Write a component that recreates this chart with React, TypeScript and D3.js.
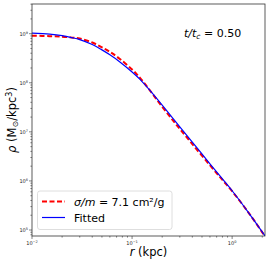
import React, { useEffect, useRef } from 'react';
import * as d3 from 'd3';

// radius (kpc) and log10 density
const radii = [0.01, 0.015, 0.02, 0.025, 0.03, 0.04, 0.05, 0.06, 0.075, 0.1, 0.12, 0.15, 0.19, 0.25, 0.3, 0.4, 0.6, 0.8, 1.0, 1.5, 2.13];
const simLogRho = [8.96, 8.95, 8.94, 8.92, 8.9, 8.82, 8.72, 8.63, 8.49, 8.27, 8.1, 7.85, 7.57, 7.26, 7.06, 6.75, 6.32, 6.02, 5.79, 5.32, 4.87];
const fitLogRho = [9.01, 8.99, 8.96, 8.92, 8.88, 8.78, 8.67, 8.57, 8.43, 8.22, 8.07, 7.85, 7.6, 7.3, 7.1, 6.79, 6.35, 6.04, 5.8, 5.32, 4.88];
const xTicks = [-2, -1, 0];
const yTicks = [5, 6, 7, 8, 9];
const simLabel = 'σ/m = 7.1 cm²/g';
const fitLabel = 'Fitted';

const W = 268, H = 262;
const margin = { top: 4, right: 3, bottom: 26, left: 32 };
const font = 'DejaVu Sans, sans-serif';

const App = () => {
  const svgRef = useRef<SVGSVGElement>(null);

  useEffect(() => {
    const svg = d3.select(svgRef.current);
    svg.selectAll('*').remove();

    const x = d3.scaleLog().domain([0.01, 2.13]).range([margin.left, W - margin.right]);
    const y = d3.scaleLog().domain([Math.pow(10, 4.878), Math.pow(10, 9.605)]).range([H - margin.bottom, margin.top]);

    const line = d3.line<[number, number]>()
      .x(d => x(d[0]))
      .y(d => y(Math.pow(10, d[1])))
      .curve(d3.curveCatmullRom.alpha(0.5));

    const clip = svg.append('clipPath').attr('id', 'plot');
    clip.append('rect')
      .attr('x', margin.left).attr('y', margin.top)
      .attr('width', W - margin.left - margin.right)
      .attr('height', H - margin.top - margin.bottom);

    const plot = svg.append('g').attr('clip-path', 'url(#plot)');
    plot.append('path')
      .datum(radii.map((r, i) => [r, simLogRho[i]] as [number, number]))
      .attr('d', line)
      .attr('fill', 'none')
      .attr('stroke', '#ff0000')
      .attr('stroke-width', 2)
      .attr('stroke-dasharray', '5,2.5');
    plot.append('path')
      .datum(radii.map((r, i) => [r, fitLogRho[i]] as [number, number]))
      .attr('d', line)
      .attr('fill', 'none')
      .attr('stroke', '#0000ff')
      .attr('stroke-width', 1.2);

    // frame
    svg.append('rect')
      .attr('x', margin.left).attr('y', margin.top)
      .attr('width', W - margin.left - margin.right)
      .attr('height', H - margin.top - margin.bottom)
      .attr('fill', 'none').attr('stroke', '#333').attr('stroke-width', 0.8);

    // x ticks
    const xb = H - margin.bottom;
    for (let e = -2; e <= 0; e++) {
      for (let m = 1; m <= 9; m++) {
        const v = m * Math.pow(10, e);
        if (v > 2.13) continue;
        svg.append('line')
          .attr('x1', x(v)).attr('x2', x(v))
          .attr('y1', xb).attr('y2', xb + (m === 1 ? 3 : 1.6))
          .attr('stroke', '#333').attr('stroke-width', 0.6);
      }
    }
    xTicks.forEach(e => {
      const t = svg.append('text')
        .attr('x', x(Math.pow(10, e))).attr('y', xb + 9)
        .attr('text-anchor', 'middle')
        .attr('font-family', font).attr('font-size', 5).attr('fill', '#222');
      t.append('tspan').text('10');
      t.append('tspan').attr('dy', -2).attr('font-size', 3.5).text(e < 0 ? '−' + -e : String(e));
    });

    // y ticks
    for (let e = 4; e <= 9; e++) {
      for (let m = 1; m <= 9; m++) {
        const v = m * Math.pow(10, e);
        if (v < Math.pow(10, 4.878) || v > Math.pow(10, 9.605)) continue;
        svg.append('line')
          .attr('x1', margin.left).attr('x2', margin.left - (m === 1 ? 3 : 1.6))
          .attr('y1', y(v)).attr('y2', y(v))
          .attr('stroke', '#333').attr('stroke-width', 0.6);
      }
    }
    yTicks.forEach(e => {
      const t = svg.append('text')
        .attr('x', margin.left - 4).attr('y', y(Math.pow(10, e)) + 2)
        .attr('text-anchor', 'end')
        .attr('font-family', font).attr('font-size', 5).attr('fill', '#222');
      t.append('tspan').text('10');
      t.append('tspan').attr('dy', -2).attr('font-size', 3.5).text(String(e));
    });

    // axis labels
    const xl = svg.append('text')
      .attr('x', (margin.left + W - margin.right) / 2).attr('y', 256)
      .attr('text-anchor', 'middle')
      .attr('font-family', font).attr('font-size', 11.5).attr('fill', '#000');
    xl.append('tspan').attr('font-style', 'italic').text('r');
    xl.append('tspan').text(' (kpc)');

    const yl = svg.append('text')
      .attr('transform', `translate(16,${(margin.top + H - margin.bottom) / 2}) rotate(-90)`)
      .attr('text-anchor', 'middle')
      .attr('font-family', font).attr('font-size', 11.5).attr('fill', '#000');
    yl.append('tspan').attr('font-style', 'italic').text('ρ');
    yl.append('tspan').text(' (M');
    yl.append('tspan').attr('font-size', 8).attr('dy', 2).text('⊙');
    yl.append('tspan').attr('dy', -2).text('/kpc');
    yl.append('tspan').attr('font-size', 8).attr('dy', -4).text('3');
    yl.append('tspan').attr('dy', 4).text(')');

    // annotation
    const ann = svg.append('text')
      .attr('x', 184).attr('y', 37)
      .attr('font-family', font).attr('font-size', 11).attr('fill', '#000');
    ann.append('tspan').attr('font-style', 'italic').text('t/t');
    ann.append('tspan').attr('font-style', 'italic').attr('font-size', 7.5).attr('dy', 2).text('c');
    ann.append('tspan').attr('dy', -2).text(' = 0.50');

    // legend
    const lg = svg.append('g');
    lg.append('rect')
      .attr('x', 37.5).attr('y', 191).attr('width', 134.5).attr('height', 38.5)
      .attr('rx', 2.5).attr('fill', 'white').attr('fill-opacity', 0.8)
      .attr('stroke', '#d6d6d6').attr('stroke-width', 0.8);
    lg.append('line')
      .attr('x1', 42).attr('x2', 65).attr('y1', 201.5).attr('y2', 201.5)
      .attr('stroke', '#ff0000').attr('stroke-width', 2).attr('stroke-dasharray', '5,2.5');
    lg.append('line')
      .attr('x1', 42).attr('x2', 65).attr('y1', 217.5).attr('y2', 217.5)
      .attr('stroke', '#0000ff').attr('stroke-width', 1.2);
    const l1 = lg.append('text')
      .attr('x', 74).attr('y', 205.5)
      .attr('font-family', font).attr('font-size', 11).attr('fill', '#000');
    l1.append('tspan').attr('font-style', 'italic').text('σ/m');
    l1.append('tspan').text(simLabel.slice(3));
    lg.append('text')
      .attr('x', 74).attr('y', 221.5)
      .attr('font-family', font).attr('font-size', 11).attr('fill', '#000')
      .text(fitLabel);
  }, []);

  return (
    <svg ref={svgRef} width={W} height={H}
      style={{ position: 'absolute', left: 0, top: 0, background: 'white' }} />
  );
};

export default App;
